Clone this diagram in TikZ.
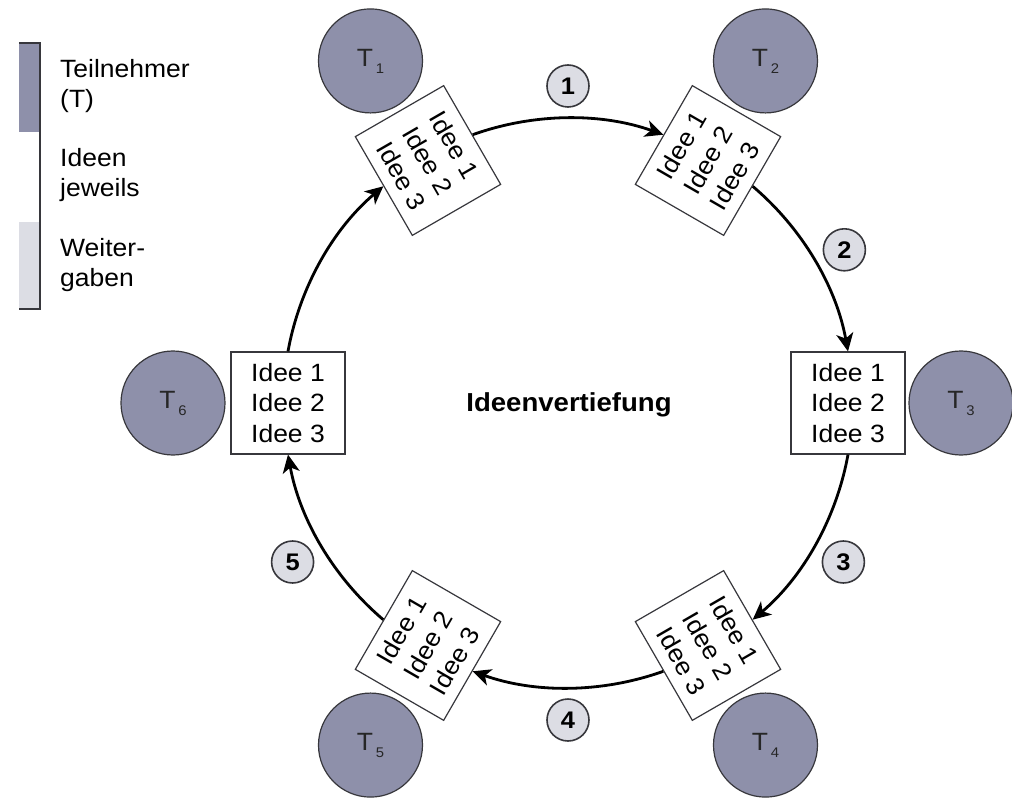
\documentclass[tikz,border=0pt]{standalone}
\usepackage{fontspec}
\setmainfont{Liberation Sans}[FakeStretch=1.06]
\usepackage{tikz}
\usetikzlibrary{arrows.meta}

\definecolor{tnfill}{RGB}{142,144,170}
\definecolor{nrfill}{RGB}{220,221,228}
\definecolor{rimgray}{RGB}{55,55,60}

\newcommand{\tname}[1]{T\hspace{3pt}\raisebox{-7pt}{\fontsize{14}{14}\selectfont #1}}

\begin{document}
\begin{tikzpicture}[x=1pt,y=1pt,
		ideebox/.style={draw=rimgray,line width=1.2pt,fill=white,minimum width=114pt,minimum height=102pt,inner sep=0pt,align=center,font=\fontsize{25}{30.5}\selectfont},
		tcirc/.style={circle,draw=rimgray,line width=1.2pt,fill=tnfill,minimum size=104pt,inner sep=0pt,text=black!85,font=\fontsize{25}{25}\selectfont},
		nrcirc/.style={circle,draw=rimgray,line width=1.6pt,fill=nrfill,minimum size=42pt,inner sep=0pt,font=\bfseries\fontsize{24}{24}\selectfont},
		legtext/.style={align=left,inner sep=0pt,font=\fontsize{25}{30}\selectfont},
		weiter/.style={bend left=19.7,looseness=0.88}]
		\useasboundingbox (-568,-395) rectangle (444,403);

		% Legende
		\fill[tnfill] (-549,360) rectangle (-528,271);
		\fill[nrfill] (-549,181) rectangle (-528,94);
		\draw[rimgray,line width=1.2pt] (-549,360) -- (-528,360) -- (-528,94) -- (-549,94);
		\node[legtext,anchor=base west] (legT) at (-508,295) {Teilnehmer\\(T)};
		\node[legtext,anchor=base west] (legI) at (-508,206) {Ideen\\jeweils};
		\node[legtext,anchor=base west] (legW) at (-508,116) {Weiter-\\gaben};

		% Teilnehmer
		\node[tcirc] (t1) at (120:395) {\tname{1}};
		\node[tcirc] (t2) at (60:395)  {\tname{2}};
		\node[tcirc] (t3) at (0:393)   {\tname{3}};
		\node[tcirc] (t4) at (-60:395) {\tname{4}};
		\node[tcirc] (t5) at (-120:395){\tname{5}};
		\node[tcirc] (t6) at (180:395) {\tname{6}};

		% Ideen
		\node[ideebox,rotate=-60] (b1) at (120:280) {Idee 1\\Idee 2\\Idee 3};
		\node[ideebox,rotate=60]  (b2) at (60:280)  {Idee 1\\Idee 2\\Idee 3};
		\node[ideebox]            (b3) at (0:280)   {Idee 1\\Idee 2\\Idee 3};
		\node[ideebox,rotate=-60] (b4) at (-60:280) {Idee 1\\Idee 2\\Idee 3};
		\node[ideebox,rotate=60]  (b5) at (-120:280){Idee 1\\Idee 2\\Idee 3};
		\node[ideebox]            (b6) at (180:280) {Idee 1\\Idee 2\\Idee 3};

		\begin{scope}[line width=2.8pt,-{Stealth[length=18pt,width=17pt,inset=5pt]}]
			\draw (b1.north) to[weiter] (b2.north);
			\draw (b2.south) to[weiter] (b3.north);
			\draw (b3.south) to[weiter] (b4.north);
			\draw (b4.south) to[weiter] (b5.south);
			\draw (b5.north) to[weiter] (b6.south);
			\draw (b6.north) to[weiter] (b1.south);
		\end{scope}

		% Weitergaben
		\node[nrcirc] (n1) at (90:317)   {1};
		\node[nrcirc] (n2) at (29:316)   {2};
		\node[nrcirc] (n3) at (-30:318)  {3};
		\node[nrcirc] (n4) at (-90:317)  {4};
		\node[nrcirc] (n5) at (-150:318) {5};

		\node[font=\bfseries\fontsize{26}{30}\selectfont,anchor=base] (titel) at (1,-8) {Ideenvertiefung};
	\end{tikzpicture}
\end{document}
